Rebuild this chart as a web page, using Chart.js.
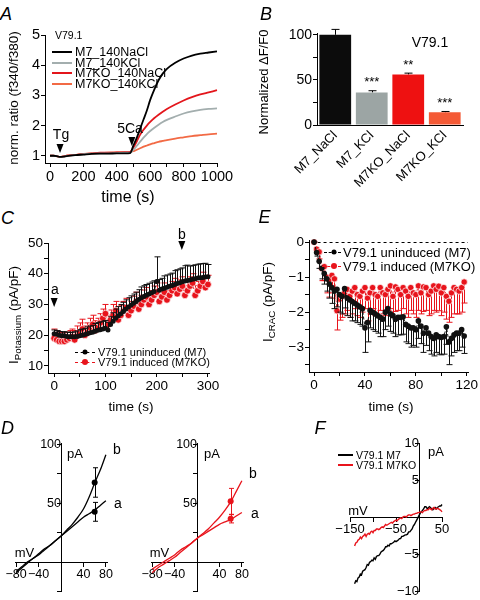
<!DOCTYPE html>
<html>
<head>
<meta charset="utf-8">
<title>V79.1 figure</title>
<script src="https://cdn.jsdelivr.net/npm/chart.js@4.4.1/dist/chart.umd.min.js"></script>
<style>
  html, body { margin: 0; padding: 0; background: #fff; }
  body { position: relative; width: 480px; height: 600px; overflow: hidden;
         font-family: "Liberation Sans", Arial, Helvetica, sans-serif; color: #000; }
  canvas { position: absolute; }
  .c { position: absolute; transform: translate(-50%, -50%); white-space: nowrap; line-height: 1; }
  .l { position: absolute; transform: translateY(-50%); white-space: nowrap; line-height: 1; }
  .yt { position: absolute; transform: translate(-50%, -50%) rotate(-90deg); white-space: nowrap; line-height: 1; }
  .pl { font-style: italic; font-size: 18px; }
  .sw { position: absolute; height: 0; }
  .dot { position: absolute; border-radius: 50%; transform: translate(-50%, -50%); }
  sub { font-size: 72%; vertical-align: -0.3em; line-height: 0; }
</style>
</head>
<body>
<canvas id="chartA" width="235" height="165" style="left:0;top:25px"></canvas>
<canvas id="chartB" width="240" height="170" style="left:240px;top:20px"></canvas>
<canvas id="chartC" width="235" height="170" style="left:0;top:230px"></canvas>
<canvas id="chartE" width="240" height="172" style="left:240px;top:228px"></canvas>
<canvas id="chartD1" width="125" height="172" style="left:0;top:428px"></canvas>
<canvas id="chartD2" width="125" height="172" style="left:135px;top:428px"></canvas>
<canvas id="chartF" width="160" height="172" style="left:320px;top:428px"></canvas>

<!-- panel letters -->
<div class="c pl" style="left:6px;top:13.5px">A</div>
<div class="c pl" style="left:266px;top:13.5px">B</div>
<div class="c pl" style="left:7.5px;top:218px">C</div>
<div class="c pl" style="left:264.5px;top:216.5px">E</div>
<div class="c pl" style="left:7.5px;top:428px">D</div>
<div class="c pl" style="left:320px;top:428px">F</div>

<!-- A -->
<div class="yt" style="left:14px;top:98px;font-size:13.5px">norm. ratio (f340/f380)</div>
<div class="c" style="left:128px;top:197px;font-size:16px">time (s)</div>
<div class="l" style="left:55px;top:35px;font-size:10.5px">V79.1</div>
<div class="sw" style="left:52px;top:51px;width:20px;border-top:2px solid #000"></div>
<div class="l" style="left:75px;top:52px;font-size:12.5px">M7_140NaCl</div>
<div class="sw" style="left:52px;top:61.5px;width:20px;border-top:2px solid #a3aeae"></div>
<div class="l" style="left:75px;top:62.5px;font-size:12.5px">M7_140KCl</div>
<div class="sw" style="left:52px;top:72px;width:20px;border-top:2px solid #e3151b"></div>
<div class="l" style="left:75px;top:73px;font-size:12.5px">M7KO_140NaCl</div>
<div class="sw" style="left:52px;top:82.5px;width:20px;border-top:2px solid #f26a45"></div>
<div class="l" style="left:75px;top:83.5px;font-size:12.5px">M7KO_140KCl</div>
<div class="c" style="left:61px;top:134px;font-size:14px">Tg</div>
<div class="c" style="left:130px;top:127.5px;font-size:14px">5Ca</div>

<!-- B -->
<div class="yt" style="left:263px;top:82px;font-size:13px">Normalized ΔF/F0</div>
<div class="c" style="left:430px;top:42px;font-size:14px">V79.1</div>

<!-- C -->
<div class="yt" style="left:14px;top:315px;font-size:13.5px">I<sub>Potassium</sub> (pA/pF)</div>
<div class="c" style="left:131px;top:407px;font-size:13.5px">time (s)</div>
<div class="c" style="left:55px;top:289px;font-size:14px">a</div>
<div class="c" style="left:182px;top:234px;font-size:14px">b</div>
<div class="sw" style="left:75px;top:351.5px;width:20px;border-top:1.5px dashed #000"></div>
<div class="dot" style="left:85px;top:352px;width:5px;height:5px;background:#000"></div>
<div class="l" style="left:98px;top:352px;font-size:11px">V79.1 uninduced (M7)</div>
<div class="sw" style="left:75px;top:361.5px;width:20px;border-top:1.5px dashed #e8141c"></div>
<div class="dot" style="left:85px;top:362px;width:6px;height:6px;background:#e8141c"></div>
<div class="l" style="left:98px;top:362px;font-size:11px">V79.1 induced (M7KO)</div>

<!-- E -->
<div class="yt" style="left:268px;top:302px;font-size:13.5px">I<sub>CRAC</sub> (pA/pF)</div>
<div class="c" style="left:391px;top:407px;font-size:13.5px">time (s)</div>
<div class="sw" style="left:324px;top:251.5px;width:17px;border-top:1.5px dashed #000"></div>
<div class="dot" style="left:334px;top:252px;width:5px;height:5px;background:#000"></div>
<div class="l" style="left:343px;top:252px;font-size:13px">V79.1 uninduced (M7)</div>
<div class="sw" style="left:322px;top:265.5px;width:19px;border-top:1.5px dashed #e8141c"></div>
<div class="dot" style="left:334px;top:266px;width:6px;height:6px;background:#e8141c"></div>
<div class="l" style="left:343px;top:266px;font-size:13px">V79.1 induced (M7KO)</div>

<!-- D -->
<div class="c" style="left:75px;top:453px;font-size:13px">pA</div>
<div class="c" style="left:24.5px;top:552px;font-size:13px">mV</div>
<div class="c" style="left:117px;top:449px;font-size:14px">b</div>
<div class="c" style="left:118px;top:503px;font-size:14px">a</div>
<div class="c" style="left:212px;top:453px;font-size:13px">pA</div>
<div class="c" style="left:159.5px;top:552px;font-size:13px">mV</div>
<div class="c" style="left:253px;top:473px;font-size:14px">b</div>
<div class="c" style="left:255px;top:513px;font-size:14px">a</div>

<!-- F -->
<div class="c" style="left:436px;top:451px;font-size:13px">pA</div>
<div class="c" style="left:358px;top:510px;font-size:13px">mV</div>
<div class="sw" style="left:338px;top:453.5px;width:15px;border-top:2px solid #000"></div>
<div class="l" style="left:356px;top:454.5px;font-size:10.5px">V79.1 M7</div>
<div class="sw" style="left:338px;top:463.5px;width:15px;border-top:2px solid #e8141c"></div>
<div class="l" style="left:356px;top:464.5px;font-size:10.5px">V79.1 M7KO</div>

<script>
// --- Panel A: fura-2 ratio traces ---
const timeA = [0, 20, 40, 60, 80, 100, 150, 200, 250, 300, 350, 400, 450, 480, 500, 520, 540, 560, 580, 600, 625, 650, 675, 700, 750, 800, 850, 900, 950, 1000];
const m7Na   = [1.0, 1.0, 0.99, 0.96, 0.97, 0.99, 1.02, 1.04, 1.06, 1.07, 1.07, 1.08, 1.08, 1.09, 1.35, 1.6, 1.9, 2.2, 2.5, 2.85, 3.2, 3.5, 3.72, 3.88, 4.08, 4.22, 4.32, 4.38, 4.42, 4.46];
const m7K    = [1.0, 1.0, 0.99, 0.96, 0.97, 0.99, 1.02, 1.05, 1.07, 1.08, 1.08, 1.09, 1.1, 1.1, 1.2, 1.33, 1.47, 1.6, 1.72, 1.82, 1.93, 2.03, 2.12, 2.19, 2.3, 2.4, 2.47, 2.52, 2.55, 2.57];
const m7koNa = [1.0, 1.0, 0.99, 0.96, 0.98, 1.0, 1.03, 1.06, 1.08, 1.1, 1.1, 1.11, 1.12, 1.13, 1.27, 1.48, 1.7, 1.86, 2.0, 2.12, 2.25, 2.36, 2.46, 2.55, 2.7, 2.83, 2.94, 3.03, 3.1, 3.17];
const m7koK  = [1.0, 1.0, 0.99, 0.96, 0.98, 1.0, 1.03, 1.06, 1.08, 1.09, 1.1, 1.11, 1.12, 1.13, 1.15, 1.2, 1.25, 1.3, 1.34, 1.38, 1.42, 1.46, 1.49, 1.52, 1.57, 1.61, 1.65, 1.68, 1.71, 1.73];
const ticksAx = [0, 100, 200, 300, 400, 500, 600, 700, 800, 900, 1000];
const labelsAx = [0, 200, 400, 600, 800, 1000];
const ticksAy = [1, 2, 3, 4, 5];

// --- Panel B: normalized dF/F0 ---
const barLabels = ['M7_NaCl', 'M7_KCl', 'M7KO_NaCl', 'M7KO_KCl'];
const barValues = [100, 36, 56, 14];
const barErrors = [6, 2, 1.5, 1];
const barStars = ['', '***', '**', '***'];
const barColors = ['#0c0c0c', '#9ca5a4', '#ee1111', '#f45a36'];

// --- Panel C: potassium current over time ---
const timeC = [0, 5, 10, 15, 20, 25, 30, 35, 40, 45, 50, 55, 60, 65, 70, 75, 80, 85, 90, 95, 100, 105, 110, 115, 120, 125, 130, 135, 140, 145, 150, 155, 160, 165, 170, 175, 180, 185, 190, 195, 200, 205, 210, 215, 220, 225, 230, 235, 240, 245, 250, 255, 260, 265, 270, 275, 280, 285, 290, 295, 300];
const kM7 = [20.5, 20.3, 20, 19.8, 19.8, 19.6, 19.5, 19.5, 19.5, 19.6,
             19.8, 20, 20.2, 20.5, 20.8, 21, 21.3, 21.6, 21.8, 22,
             22.3, 21.7, 23.5, 24.5, 25.5, 26.3, 27, 27.7, 28.5, 29.2,
             29.8, 30.4, 31, 31.6, 32.2, 32.6, 33, 33.4, 33.8, 34.2,
             37.5, 34.6, 35, 35.3, 35.6, 35.9, 36.2, 36.5, 36.8, 37.1,
             37.4, 37.6, 37.8, 38, 38.2, 38.4, 38.6, 38.7, 38.8, 38.9, 39];
const kM7Err = [1.2, 1.2, 1.2, 1.3, 1.3, 1.4, 1.4, 1.5, 1.6, 1.8,
                2, 2, 2, 2.2, 2.2, 2.2, 2.5, 2.5, 2.5, 2.5,
                2.5, 2.5, 2.5, 2.8, 3, 3, 3, 3, 3, 3,
                3, 3, 3, 3.2, 3.5, 3.5, 3.5, 3.5, 3.5, 3.5,
                8, 3.5, 3.5, 4, 4, 4, 4, 4.5, 4.5, 4.5,
                4.5, 5, 5, 4.5, 4.5, 4.5, 4.5, 4.5, 4.5, 4.5, 4];
const kM7KO = [19, 18.5, 18, 18, 18, 18.5, 19, 19.5, 18.5, 20,
               21, 22, 20, 21, 22.5, 23.5, 21.5, 22.5, 24, 25.5,
               27, 23.5, 25, 26.5, 28, 25, 26.5, 28, 29, 26.5,
               28, 29.5, 31, 28.5, 30, 31.5, 32.5, 30, 31.5, 33,
               34, 31, 32.5, 34, 31.5, 33, 34.5, 35.5, 33.5, 35,
               36, 33, 34.5, 36, 37, 33, 34.5, 36, 37.5, 35.5, 36.5];
const kM7KOErr = [3, 3, 3, 2.8, 2.8, 2.5, 2.5, 2.5, 3, 3,
                  3, 3.2, 3, 3, 3, 3, 3.2, 3, 3, 3,
                  3, 3, 3.2, 3.5, 3, 3, 3.2, 3, 3, 3,
                  3, 3.2, 3, 3, 3, 3.2, 3, 3, 3, 3,
                  3, 3.2, 3, 3, 3, 3.2, 3, 3, 3, 3,
                  3, 3.2, 3, 3, 3, 3.2, 3, 3, 3, 3, 3];
const ticksCx = [0, 50, 100, 150, 200, 250, 300];
const labelsCx = [0, 100, 200, 300];
const ticksCy = [10, 15, 20, 25, 30, 35, 40, 45, 50];
const labelsCy = [10, 20, 30, 40, 50];

// --- Panel E: CRAC current over time ---
const timeE = [0, 2, 4, 6, 8, 10, 12, 14, 16, 18, 20, 22, 24, 26, 28, 30, 32, 34, 36, 38, 40, 42, 44, 46, 48, 50, 52, 54, 56, 58, 60, 62, 64, 66, 68, 70, 72, 74, 76, 78, 80, 82, 84, 86, 88, 90, 92, 94, 96, 98, 100, 102, 104, 106, 108, 110, 112, 114, 116, 118];
const cracM7 = [0, -0.3, -0.55, -0.75, -0.9, -1.05, -1.2, -1.3, -1.4, -1.35,
                -1.5, -1.55, -1.33, -1.6, -1.65, -1.7, -1.75, -1.8, -1.85, -1.9,
                -2.45, -2.3, -1.95, -2.0, -2.05, -2.1, -2.15, -2.2, -2.0, -1.9,
                -2.05, -2.1, -2.2, -2.15, -2.15, -2.13, -2.35, -2.4, -2.45, -2.45,
                -2.5, -2.25, -2.4, -2.6, -2.45, -2.6, -2.7, -2.75, -2.65, -2.7,
                -2.72, -2.7, -2.42, -2.85, -2.75, -2.65, -2.6, -2.6, -2.5, -2.68];
const cracM7Err = [0, 0.1, 0.2, 0.3, 0.3, 0.35, 0.4, 0.45, 0.5, 0.5,
                   0.5, 0.5, 0.55, 0.5, 0.5, 0.55, 0.5, 0.5, 0.5, 0.5,
                   0.7, 0.55, 0.5, 0.5, 0.5, 0.5, 0.55, 0.5, 0.5, 0.5,
                   0.5, 0.5, 0.5, 0.5, 0.5, 0.5, 0.5, 0.5, 0.55, 0.5,
                   0.5, 0.5, 0.5, 0.55, 0.5, 0.5, 0.5, 0.5, 0.5, 0.5,
                   0.5, 0.5, 0.5, 0.65, 0.5, 0.5, 0.5, 0.5, 0.5, 0.5];
const cracM7KO = [0, -0.2, -0.28, -0.75, -0.7, -1.0, -1.07, -0.95, -1.05, -1.96,
                  -1.63, -1.55, -1.45, -1.35, -1.55, -1.4, -1.3, -1.5, -1.55, -1.4,
                  -1.3, -1.6, -1.45, -1.3, -1.5, -1.55, -1.3, -1.45, -1.5, -1.35,
                  -1.25, -1.55, -1.28, -1.35, -1.5, -1.3, -1.4, -1.55, -1.3, -1.45,
                  -1.5, -1.25, -1.45, -1.28, -1.3, -1.5, -1.4, -1.25, -1.35, -1.26,
                  -1.45, -1.3, -1.55, -1.69, -1.45, -1.3, -1.35, -1.4, -1.3, -1.14];
const cracM7KOErr = [0, 0.1, 0.2, 0.35, 0.4, 0.45, 0.5, 0.5, 0.55, 0.55,
                     0.6, 0.6, 0.6, 0.6, 0.6, 0.65, 0.6, 0.6, 0.6, 0.6,
                     0.6, 0.65, 0.6, 0.6, 0.6, 0.6, 0.65, 0.6, 0.6, 0.6,
                     0.65, 0.6, 0.7, 0.6, 0.65, 0.6, 0.65, 0.6, 0.65, 0.6,
                     0.65, 0.7, 0.6, 0.7, 0.65, 0.6, 0.65, 0.7, 0.65, 0.7,
                     0.65, 0.7, 0.65, 0.6, 0.7, 0.75, 0.7, 0.65, 0.7, 0.6];
const ticksEx = [0, 20, 40, 60, 80, 100, 120];
const labelsEx = [0, 40, 80, 120];
const ticksEy = [0, -0.5, -1, -1.5, -2, -2.5, -3, -3.5];
const labelsEy = [0, -1, -2, -3];

// --- Panel D: I-V curves at time points a and b ---
const voltD = [-80, -70, -60, -50, -40, -30, -20, -10, 0, 10, 20, 30, 40, 50, 60, 70, 80];
const ivM7a   = [-8, -4, 0, 3, 7, 11, 14, 18, 22, 26, 30, 34, 38, 41, 44, 48, 52];
const ivM7b   = [-9, -5, -1, 3, 6, 10, 14, 18, 22, 27, 32, 38, 45, 55, 67, 78, 91];
const ivM7KOa = [-9, -5, -2, 1, 4, 8, 12, 16, 20, 23, 26, 29, 32, 34, 36, 39, 42];
const ivM7KOb = [-6, -3, 0, 3, 6, 10, 13, 16, 20, 24, 28, 33, 38, 44, 51, 60, 69];
const meanVolt = [60, 60];
const meanM7 = [67.5, 42.6];
const meanM7Err = [12.5, 8];
const meanM7KO = [51.5, 36.7];
const meanM7KOErr = [11, 3.5];
const ticksDx = [-80, -40, 0, 40, 80];
const labelsDx = [-80, -40, 40, 80];
const ticksDy = [-25, 0, 25, 50, 75, 100];
const labelsDy = [50, 100];

// --- Panel F: CRAC I-V ---
const voltF = [-140, -137.5, -135, -132.5, -130, -127.5, -125, -122.5, -120, -117.5,
               -115, -112.5, -110, -107.5, -105, -102.5, -100, -97.5, -95, -92.5,
               -90, -87.5, -85, -82.5, -80, -77.5, -75, -72.5, -70, -67.5,
               -65, -62.5, -60, -57.5, -55, -52.5, -50, -47.5, -45, -42.5,
               -40, -37.5, -35, -32.5, -30, -27.5, -25, -22.5, -20, -17.5,
               -15, -12.5, -10, -7.5, -5, -2.5, 0, 2.5, 5, 7.5,
               10, 12.5, 15, 17.5, 20, 22.5, 25, 27.5, 30, 32.5,
               35, 37.5, 40, 42.5, 45, 47.5, 50];
const ivF_M7 = [-9.0, -8.6, -8.7, -8.2, -8.1, -7.7, -7.8, -7.3, -7.2, -7.1,
                -6.8, -6.4, -6.5, -6.1, -6.0, -5.8, -5.9, -5.5, -5.7, -5.3,
                -5.2, -5.2, -5.0, -4.7, -4.6, -4.5, -4.3, -4.0, -4.0, -3.8,
                -3.9, -3.6, -3.6, -3.5, -3.4, -3.2, -3.3, -3.2, -3.1, -2.9,
                -2.9, -2.6, -2.6, -2.5, -2.4, -2.4, -2.3, -2.0, -2.0, -1.8,
                -1.6, -1.2, -1.0, -0.7, -0.4, -0.1, 0.2, 0.5, 0.7, 0.9,
                1.1, 1.4, 1.4, 1.2, 1.2, 1.4, 1.3, 1.1, 1.0, 1.2,
                1.3, 1.1, 1.3, 1.4, 1.5, 1.5, 1.7];
const ivF_M7KO = [-3.9, -3.5, -3.4, -3.1, -3.0, -2.7, -2.9, -2.6, -2.5, -2.3,
                  -2.6, -2.3, -2.2, -2.3, -2.0, -1.9, -2.1, -1.8, -1.8, -1.6,
                  -1.6, -1.7, -1.6, -1.4, -1.3, -1.4, -1.2, -1.0, -1.1, -1.0,
                  -0.9, -0.8, -0.7, -0.8, -0.6, -0.5, -0.4, -0.5, -0.3, -0.2,
                  -0.1, -0.2, 0.0, 0.1, 0.1, 0.0, 0.2, 0.3, 0.3, 0.2,
                  0.3, 0.4, 0.4, 0.5, 0.5, 0.6, 0.6, 0.7, 0.7, 0.6,
                  0.8, 0.9, 0.9, 1.0, 1.0, 1.2, 1.1, 1.0, 1.2, 1.3,
                  1.1, 1.1, 1.2, 1.1, 1.0, 0.9, 0.7];
const ticksFx = [-150, -100, -50, 0, 50];
const labelsFx = [-150, -50, 50];
const ticksFy = [-10, -5, 0, 5, 10];
const labelsFy = [-10, -5, 5, 10];

const FONT = '"Liberation Sans", Arial, Helvetica, sans-serif';
const RED = '#e8141c';
Chart.defaults.font.family = FONT;
Chart.defaults.color = '#000';

function fmt(v) { return v < 0 ? '\u2212' + Math.abs(v) : String(v); }

function linAxis(min, max, ticks, labels, size, fontSize) {
    const ax = {
        type: 'linear', min, max,
        afterBuildTicks: s => { s.ticks = ticks.map(v => ({ value: v })); },
        ticks: { autoSkip: false, maxRotation: 0, minRotation: 0, padding: 1,
                 font: { size: fontSize }, color: '#000',
                 callback: v => labels.includes(v) ? fmt(v) : '' },
        grid: { drawOnChartArea: false, drawTicks: true, tickLength: 4, color: '#000', lineWidth: 1 },
        border: { display: true, color: '#000', width: 1 }
    };
    if (size) ax.afterFit = s => { if (s.isHorizontal()) s.height = size; else s.width = size; };
    return ax;
}

function opts(scales, padding, pluginOpts) {
    return {
        responsive: false, animation: false, maintainAspectRatio: false,
        layout: { padding },
        plugins: Object.assign({ legend: { display: false }, tooltip: { enabled: false } }, pluginOpts || {}),
        scales
    };
}

function pts(xs, ys) { return xs.map((x, i) => ({ x, y: ys[i] })); }

function traceDs(xs, ys, color, width, smooth) {
    return { data: pts(xs, ys), showLine: true, pointRadius: 0, borderColor: color,
             borderWidth: width, cubicInterpolationMode: smooth ? 'monotone' : 'default', clip: false };
}

function dotDs(xs, ys, color, radius, errs, dir, ring) {
    const ds = { data: pts(xs, ys), showLine: true, borderColor: color, borderWidth: 1, borderDash: [3, 2],
                 pointRadius: radius, pointBackgroundColor: color,
                 pointBorderColor: ring ? 'rgba(255,255,255,0.85)' : color, pointBorderWidth: ring ? 0.8 : 0,
                 errColor: color, capWidth: 3, clip: false };
    if (dir > 0) ds.errUp = errs; else ds.errDown = errs;
    return ds;
}

// error bars drawn under each dataset's own marks
const errorBars = {
    id: 'errorBars',
    beforeDatasetDraw(chart, args) {
        const ds = chart.data.datasets[args.index];
        if (!ds.errUp && !ds.errDown) return;
        const ctx = chart.ctx, yScale = chart.scales[args.meta.yAxisID];
        ctx.save();
        ctx.strokeStyle = ds.errColor || '#000';
        ctx.lineWidth = 1;
        args.meta.data.forEach((el, i) => {
            const raw = ds.data[i];
            const v = typeof raw === 'object' ? raw.y : raw;
            const x = Math.round(el.x) + 0.5;
            const yTop = yScale.getPixelForValue(v + (ds.errUp ? ds.errUp[i] : 0));
            const yBot = yScale.getPixelForValue(v - (ds.errDown ? ds.errDown[i] : 0));
            const cw = ds.capWidth || 3;
            ctx.beginPath();
            ctx.moveTo(x, yTop); ctx.lineTo(x, yBot);
            if (ds.errUp) { ctx.moveTo(x - cw, yTop); ctx.lineTo(x + cw, yTop); }
            if (ds.errDown) { ctx.moveTo(x - cw, yBot); ctx.lineTo(x + cw, yBot); }
            ctx.stroke();
        });
        ctx.restore();
    }
};

// downward arrow heads (Tg, 5Ca, a, b)
const arrowMarks = {
    id: 'arrowMarks',
    afterDatasetsDraw(chart, args, o) {
        if (!o.items) return;
        const { ctx, scales: { x, y } } = chart;
        ctx.save();
        ctx.fillStyle = '#000';
        o.items.forEach(it => {
            const px = x.getPixelForValue(it.x), py = y.getPixelForValue(it.y);
            ctx.beginPath();
            ctx.moveTo(px, py); ctx.lineTo(px - 3.5, py - 9); ctx.lineTo(px + 3.5, py - 9);
            ctx.closePath(); ctx.fill();
        });
        ctx.restore();
    }
};

// significance stars over the bars
const starMarks = {
    id: 'starMarks',
    afterDatasetsDraw(chart) {
        const meta = chart.getDatasetMeta(0), y = chart.scales.y, ctx = chart.ctx;
        ctx.save();
        ctx.font = '13px ' + FONT;
        ctx.textAlign = 'center';
        ctx.textBaseline = 'middle';
        ctx.fillStyle = '#000';
        meta.data.forEach((el, i) => {
            if (!barStars[i]) return;
            ctx.fillText(barStars[i], el.x, y.getPixelForValue(barValues[i] + barErrors[i]) - 8);
        });
        ctx.restore();
    }
};

// dashed zero line in E
const zeroLine = {
    id: 'zeroLine',
    beforeDatasetsDraw(chart) {
        const { ctx, scales: { x, y } } = chart;
        const py = Math.round(y.getPixelForValue(0)) + 0.5;
        ctx.save();
        ctx.setLineDash([3, 3]);
        ctx.strokeStyle = '#000';
        ctx.lineWidth = 1;
        ctx.beginPath();
        ctx.moveTo(x.getPixelForValue(-2), py);
        ctx.lineTo(x.getPixelForValue(121), py);
        ctx.stroke();
        ctx.restore();
    }
};

// --- A ---
new Chart(document.getElementById('chartA'), {
    type: 'scatter',
    data: { datasets: [
        traceDs(timeA, m7Na, '#000', 1.8, true),
        traceDs(timeA, m7K, '#a3aeae', 1.8, true),
        traceDs(timeA, m7koNa, '#e3151b', 1.8, true),
        traceDs(timeA, m7koK, '#f26a45', 1.8, true)
    ] },
    options: opts({
        x: linAxis(-30, 1000, ticksAx, labelsAx, 27, 14.5),
        y: linAxis(0.76, 5, ticksAy, ticksAy, 45, 14.5)
    }, { top: 10, right: 18, left: 0, bottom: 0 },
    { arrowMarks: { items: [{ x: 60, y: 1.09 }, { x: 490, y: 1.32 }] } }),
    plugins: [arrowMarks]
});

// --- B ---
const axB = linAxis(0, 102, [0, 25, 50, 75, 100], [0, 50, 100], 77, 14);
new Chart(document.getElementById('chartB'), {
    type: 'bar',
    data: { labels: barLabels, datasets: [{
        data: barValues, backgroundColor: barColors, borderWidth: 0,
        barPercentage: 0.87, categoryPercentage: 1,
        errUp: barErrors, errColor: '#000', capWidth: 4
    }] },
    options: opts({
        x: { type: 'category', offset: true,
             afterFit: s => { s.height = 65; },
             ticks: { autoSkip: false, minRotation: 45, maxRotation: 45, padding: 3, font: { size: 13 }, color: '#000' },
             grid: { drawOnChartArea: false, drawTicks: false },
             border: { display: true, color: '#000', width: 1 } },
        y: axB
    }, { top: 13, right: 17, left: 0, bottom: 0 }),
    plugins: [errorBars, starMarks]
});

// --- C ---
new Chart(document.getElementById('chartC'), {
    type: 'scatter',
    data: { datasets: [
        dotDs(timeC, kM7, '#111', 2.5, kM7Err, 1, false),
        dotDs(timeC, kM7KO, RED, 3.4, kM7KOErr, 1, true)
    ] },
    options: opts({
        x: linAxis(-12, 302, ticksCx, labelsCx, 27, 13.5),
        y: linAxis(7.7, 50, ticksCy, labelsCy, 48, 13.5)
    }, { top: 13, right: 26, left: 0, bottom: 0 },
    { arrowMarks: { items: [{ x: 0, y: 29.2 }, { x: 249, y: 47.7 }] } }),
    plugins: [errorBars, arrowMarks]
});

// --- E ---
new Chart(document.getElementById('chartE'), {
    type: 'scatter',
    data: { datasets: [
        dotDs(timeE, cracM7, '#111', 2.8, cracM7Err, -1, false),
        dotDs(timeE, cracM7KO, RED, 3.2, cracM7KOErr, -1, true)
    ] },
    options: opts({
        x: linAxis(-4, 121, ticksEx, labelsEx, 28, 13.5),
        y: linAxis(-3.71, 0.06, ticksEy, labelsEy, 69, 13.5)
    }, { top: 12, right: 12, left: 0, bottom: 0 }),
    plugins: [zeroLine, errorBars]
});

// --- D (two I-V panels, axes through the origin) ---
function ivChart(id, color, lineA, lineB, means, errs, padding) {
    const x = Object.assign(linAxis(-82, 82, ticksDx, labelsDx, 0, 12.5), { position: { y: 0 } });
    const y = Object.assign(linAxis(-25, 101, ticksDy, labelsDy, 0, 12.5), { position: { x: 0 } });
    new Chart(document.getElementById(id), {
        type: 'scatter',
        data: { datasets: [
            traceDs(voltD, lineA, color, 1.3, true),
            traceDs(voltD, lineB, color, 1.3, true),
            { data: pts(meanVolt, means), showLine: false, pointRadius: 3, pointBackgroundColor: color,
              pointBorderWidth: 0, errUp: errs, errDown: errs, errColor: color, capWidth: 2.5, clip: false }
        ] },
        options: opts({ x, y }, padding),
        plugins: [errorBars]
    });
}
ivChart('chartD1', '#000', ivM7a, ivM7b, meanM7, meanM7Err, { left: 15, right: 18, top: 15, bottom: 7 });
ivChart('chartD2', RED, ivM7KOa, ivM7KOb, meanM7KO, meanM7KOErr, { left: 16, right: 17, top: 15, bottom: 7 });

// --- F ---
new Chart(document.getElementById('chartF'), {
    type: 'scatter',
    data: { datasets: [
        traceDs(voltF, ivF_M7KO, RED, 1.4, false),
        traceDs(voltF, ivF_M7, '#000', 1.4, false)
    ] },
    options: opts({
        x: Object.assign(linAxis(-150, 50, ticksFx, labelsFx, 0, 13), { position: { y: 0 } }),
        y: Object.assign(linAxis(-10, 10, ticksFy, labelsFy, 0, 13), { position: { x: 0 } })
    }, { left: 30, right: 38, top: 15, bottom: 6 })
});
</script>
</body>
</html>
